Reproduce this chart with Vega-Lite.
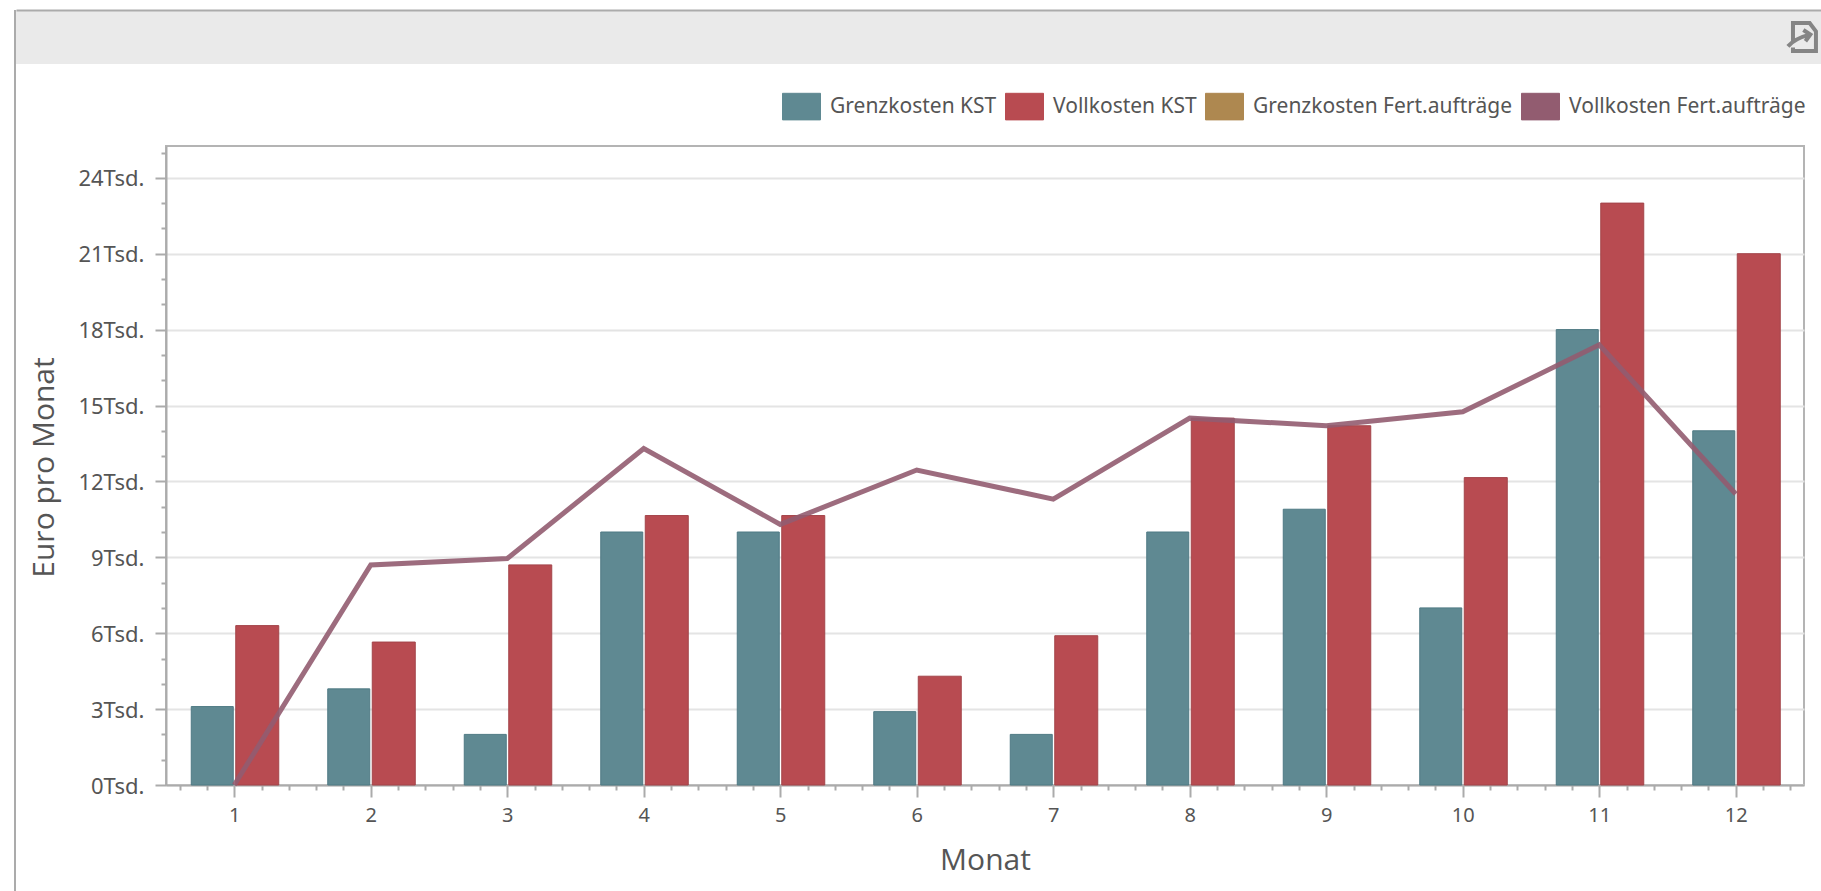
{
  "$schema": "https://vega.github.io/schema/vega-lite/v6.json",
  "padding": {"left": 12, "top": 10, "right": 0, "bottom": 0},
  "background": "white",
  "spacing": 0,
  "bounds": "flush",
  "config": {
    "view": {"stroke": null},
    "font": "Noto Sans"
  },
  "hconcat": [
    {
      "width": 2,
      "height": 881,
      "view": {"fill": "#ababab", "stroke": null},
      "data": {"values": [{"blank": 0}]},
      "mark": {"type": "point", "opacity": 0},
      "encoding": {}
    },
    {
      "spacing": 82,
      "bounds": "flush",
      "vconcat": [
        {
          "width": 1808,
          "height": 54,
          "view": {"fill": "#eaeaea", "stroke": null},
          "data": {"values": [{"slot": 0.9878, "band": 0.5}]},
          "mark": {"type": "point", "filled": false, "stroke": "#858585", "strokeWidth": 4, "opacity": 1, "size": 784,
            "shape": "M-0.64,0.43V-1H0.55L1,-0.4V1H-0.64V0.75 M-1,0.67C-0.6,0.2 -0.1,0 0.55,-0.17 M0.1,-0.5L0.6,-0.17L0.25,0.3"},
          "encoding": {
            "x": {"field": "slot", "type": "quantitative", "scale": {"domain": [0, 1]},
              "axis": {"orient": "top", "title": null, "labels": false, "ticks": false, "grid": false, "domain": true, "domainColor": "#ababab", "domainWidth": 2}},
            "y": {"field": "band", "type": "quantitative", "scale": {"domain": [0, 1]}, "axis": null}
          }
        },
        {
          "spacing": 0,
          "bounds": "flush",
          "hconcat": [
            {
              "width": 150,
              "height": 639,
              "data": {"values": [{"blank": 0}]},
              "mark": {"type": "point", "opacity": 0},
              "encoding": {}
            },
            {
              "width": 1638,
              "height": 639,
              "view": {"stroke": "#b4b4b4", "strokeWidth": 2},
              "data": {
                "values": [
                  {"monat": 1, "serie": "Grenzkosten KST", "euro": 3100},
                  {"monat": 2, "serie": "Grenzkosten KST", "euro": 3800},
                  {"monat": 3, "serie": "Grenzkosten KST", "euro": 2000},
                  {"monat": 4, "serie": "Grenzkosten KST", "euro": 10000},
                  {"monat": 5, "serie": "Grenzkosten KST", "euro": 10000},
                  {"monat": 6, "serie": "Grenzkosten KST", "euro": 2900},
                  {"monat": 7, "serie": "Grenzkosten KST", "euro": 2000},
                  {"monat": 8, "serie": "Grenzkosten KST", "euro": 10000},
                  {"monat": 9, "serie": "Grenzkosten KST", "euro": 10900},
                  {"monat": 10, "serie": "Grenzkosten KST", "euro": 7000},
                  {"monat": 11, "serie": "Grenzkosten KST", "euro": 18000},
                  {"monat": 12, "serie": "Grenzkosten KST", "euro": 14000},
                  {"monat": 1, "serie": "Vollkosten KST", "euro": 6300},
                  {"monat": 2, "serie": "Vollkosten KST", "euro": 5650},
                  {"monat": 3, "serie": "Vollkosten KST", "euro": 8700},
                  {"monat": 4, "serie": "Vollkosten KST", "euro": 10650},
                  {"monat": 5, "serie": "Vollkosten KST", "euro": 10650},
                  {"monat": 6, "serie": "Vollkosten KST", "euro": 4300},
                  {"monat": 7, "serie": "Vollkosten KST", "euro": 5900},
                  {"monat": 8, "serie": "Vollkosten KST", "euro": 14500},
                  {"monat": 9, "serie": "Vollkosten KST", "euro": 14200},
                  {"monat": 10, "serie": "Vollkosten KST", "euro": 12150},
                  {"monat": 11, "serie": "Vollkosten KST", "euro": 23000},
                  {"monat": 12, "serie": "Vollkosten KST", "euro": 21000},
                  {"monat": 1, "serie": "Vollkosten Fert.aufträge", "euro": 0},
                  {"monat": 2, "serie": "Vollkosten Fert.aufträge", "euro": 8700},
                  {"monat": 3, "serie": "Vollkosten Fert.aufträge", "euro": 8950},
                  {"monat": 4, "serie": "Vollkosten Fert.aufträge", "euro": 13300},
                  {"monat": 5, "serie": "Vollkosten Fert.aufträge", "euro": 10300},
                  {"monat": 6, "serie": "Vollkosten Fert.aufträge", "euro": 12450},
                  {"monat": 7, "serie": "Vollkosten Fert.aufträge", "euro": 11300},
                  {"monat": 8, "serie": "Vollkosten Fert.aufträge", "euro": 14500},
                  {"monat": 9, "serie": "Vollkosten Fert.aufträge", "euro": 14200},
                  {"monat": 10, "serie": "Vollkosten Fert.aufträge", "euro": 14750},
                  {"monat": 11, "serie": "Vollkosten Fert.aufträge", "euro": 17400},
                  {"monat": 12, "serie": "Vollkosten Fert.aufträge", "euro": 11500}
                ]
              },
              "resolve": {"axis": {"x": "independent", "y": "independent"}, "scale": {"x": "shared", "y": "shared", "color": "shared"}},
              "layer": [
                {
                  "transform": [{"filter": "datum.serie === 'Grenzkosten KST'"}],
                  "mark": {"type": "bar", "size": 42, "xOffset": -22, "strokeWidth": 1, "stroke": "#4f7a84"},
                  "encoding": {
                    "x": {"field": "monat", "type": "quantitative", "scale": {"domain": [0.5, 12.5], "nice": false, "zero": false, "padding": 0},
                      "axis": {"orient": "bottom", "title": "Monat", "values": [1,2,3,4,5,6,7,8,9,10,11,12], "format": "d", "grid": false,
                        "tickSize": 12, "tickWidth": 2, "tickColor": "#ababab", "domainColor": "#ababab", "domainWidth": 2,
                        "labelFont": "Noto Sans", "labelFontSize": 20, "labelColor": "#555555", "labelPadding": 8,
                        "titleFont": "Open Sans", "titleFontWeight": 400, "titleFontSize": 30, "titleColor": "#555555", "titlePadding": 20}},
                    "y": {"field": "euro", "type": "quantitative", "scale": {"domain": [0, 25257], "nice": false},
                      "axis": {"orient": "left", "title": "Euro pro Monat", "values": [0,3000,6000,9000,12000,15000,18000,21000,24000],
                        "labelExpr": "datum.value / 1000 + 'Tsd.'", "grid": true, "gridColor": "#e4e4e4", "gridWidth": 2,
                        "tickSize": 11, "tickWidth": 2, "tickColor": "#ababab", "domainColor": "#ababab", "domainWidth": 2,
                        "labelFont": "Noto Sans", "labelFontSize": 22, "labelColor": "#555555", "labelPadding": 11, "labelOffset": 1,
                        "titleFont": "Open Sans", "titleFontWeight": 400, "titleFontSize": 30, "titleColor": "#555555", "titleX": -107, "titleY": 321}},
                    "color": {"field": "serie", "type": "nominal",
                      "scale": {"domain": ["Grenzkosten KST", "Vollkosten KST", "Grenzkosten Fert.aufträge", "Vollkosten Fert.aufträge"],
                        "range": ["#5f8992", "#b84b51", "#ae8850", "#925c70"]},
                      "legend": {"orient": "none", "legendX": 768, "legendY": 77, "direction": "horizontal", "columns": 4, "title": null,
                        "symbolType": "M-1,-0.7H1V0.7H-1Z", "symbolSize": 1444, "symbolStrokeWidth": 1, "symbolStrokeColor": "#dddddd",
                        "labelFont": "Noto Sans", "labelFontSize": 21, "labelColor": "#555555", "labelOffset": 9, "columnPadding": 6, "labelLimit": 300}}
                  }
                },
                {
                  "transform": [{"filter": "datum.serie === 'Vollkosten KST'"}],
                  "mark": {"type": "bar", "size": 43, "xOffset": 23, "strokeWidth": 1, "stroke": "#a3444a"},
                  "encoding": {
                    "x": {"field": "monat", "type": "quantitative", "axis": null},
                    "y": {"field": "euro", "type": "quantitative", "axis": null},
                    "color": {"field": "serie", "type": "nominal", "legend": null}
                  }
                },
                {
                  "transform": [{"filter": "datum.serie === 'Vollkosten Fert.aufträge'"}],
                  "mark": {"type": "line", "strokeWidth": 5, "opacity": 0.9},
                  "encoding": {
                    "x": {"field": "monat", "type": "quantitative",
                      "axis": {"orient": "bottom", "title": null, "labels": false, "domain": false, "grid": false, "tickSize": 5, "tickWidth": 2, "tickColor": "#ababab",
                        "values": [0.6,0.8,1.2,1.4,1.6,1.8,2.2,2.4,2.6,2.8,3.2,3.4,3.6,3.8,4.2,4.4,4.6,4.8,5.2,5.4,5.6,5.8,6.2,6.4,6.6,6.8,7.2,7.4,7.6,7.8,8.2,8.4,8.6,8.8,9.2,9.4,9.6,9.8,10.2,10.4,10.6,10.8,11.2,11.4,11.6,11.8,12.2,12.4]}},
                    "y": {"field": "euro", "type": "quantitative",
                      "axis": {"orient": "left", "title": null, "labels": false, "domain": false, "grid": false, "tickSize": 5, "tickWidth": 2, "tickColor": "#ababab",
                        "values": [1000,2000,4000,5000,7000,8000,10000,11000,13000,14000,16000,17000,19000,20000,22000,23000,25000]}},
                    "color": {"field": "serie", "type": "nominal", "legend": null}
                  }
                }
              ]
            }
          ]
        }
      ]
    }
  ]
}
